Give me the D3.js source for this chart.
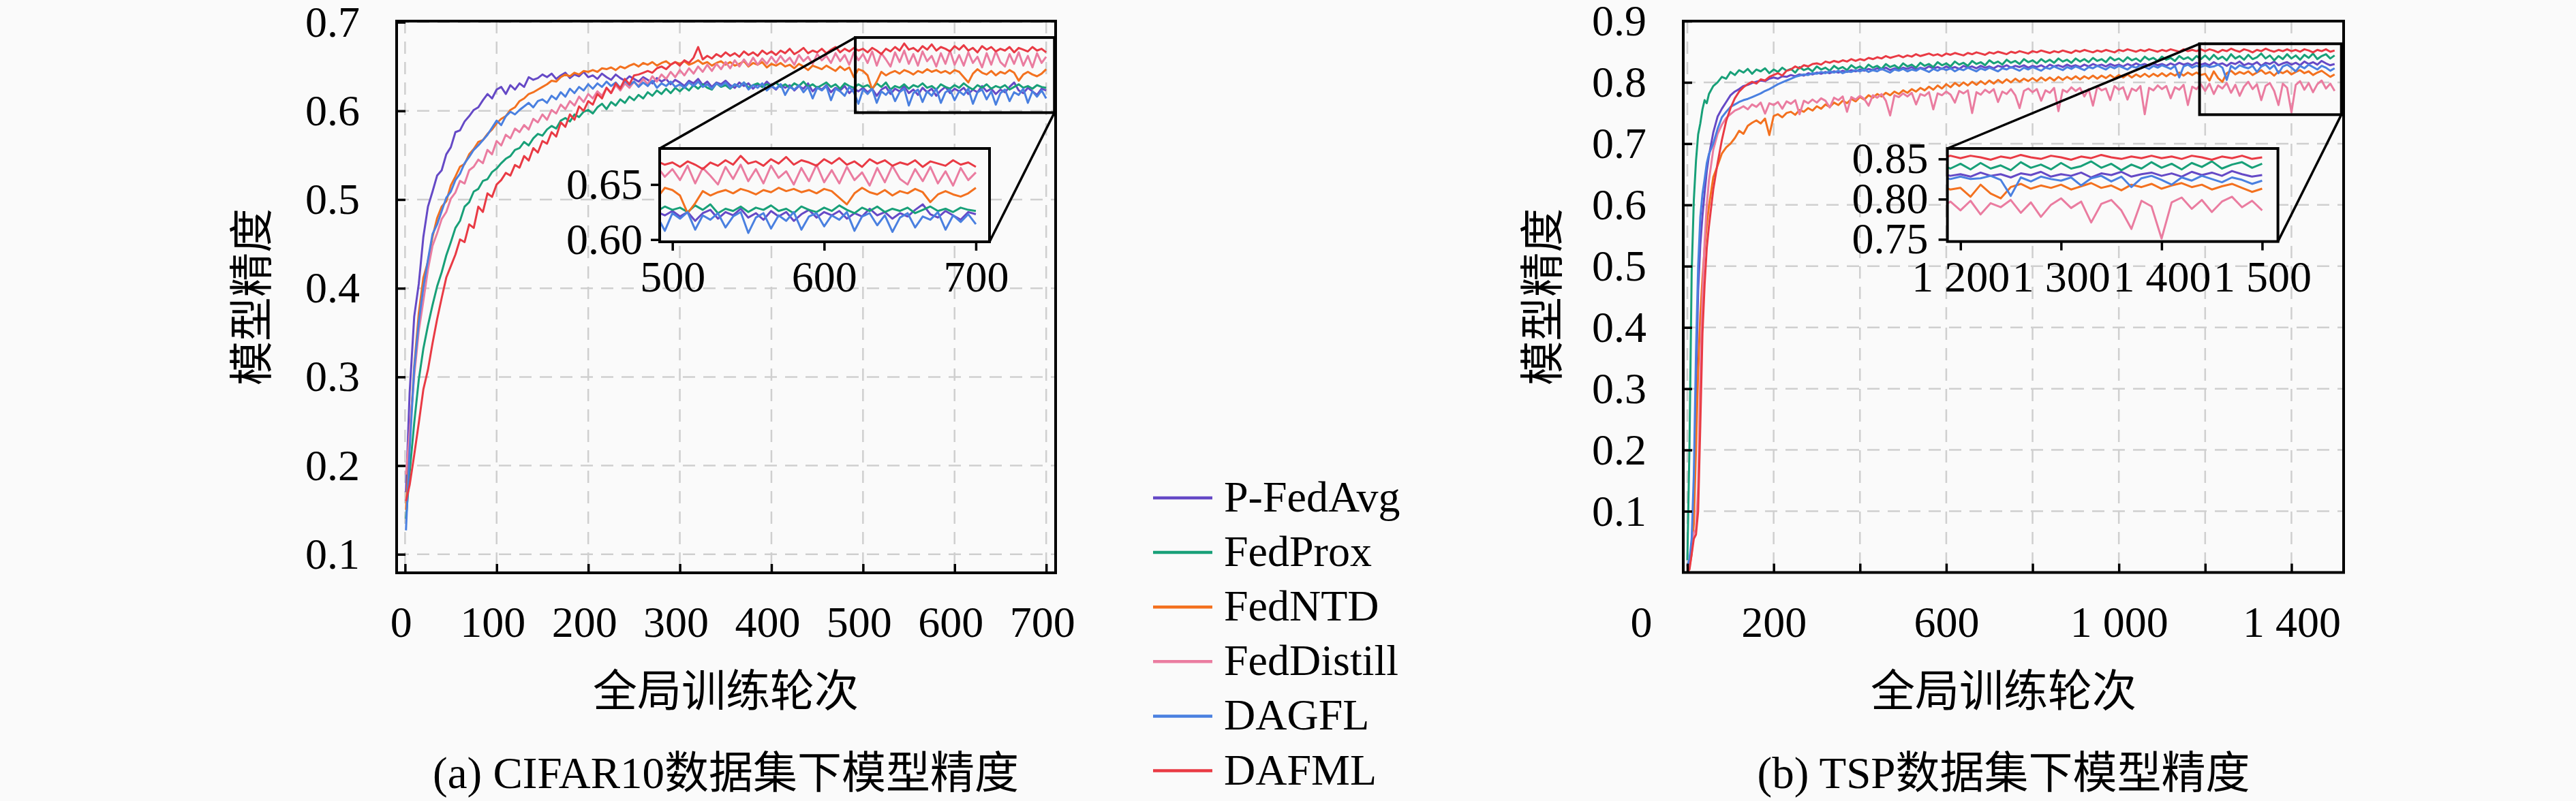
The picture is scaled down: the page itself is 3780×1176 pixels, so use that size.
<!DOCTYPE html>
<html>
<head>
<meta charset="utf-8">
<script src="https://cdn.jsdelivr.net/npm/d3@7"></script>
<style>
  html, body { margin: 0; padding: 0; background: #fafafa; }
  svg { display: block; }
</style>
</head>
<body>
<svg id="fig"></svg>
<script>
"use strict";

/* ── Series meta ───────────────────────────────────────── */
const SERIES = ["P-FedAvg", "FedProx", "FedNTD", "FedDistill", "DAGFL", "DAFML"];
const COLORS = ["#6549c6", "#18a078", "#f3711f", "#ea7ca0", "#4a80e0", "#e93a44"];

/* ── (a) CIFAR10: rounds + accuracy per method ─────────── */
const ROUNDS_A = [1].concat(d3.range(5, 701, 5));

const A_PFEDAVG = [0.170,
  0.282,0.368,0.405,0.458,0.492,0.509,0.527,0.533,0.551,0.559,
  0.576,0.578,0.588,0.594,0.601,0.604,0.612,0.619,0.614,0.624,
  0.627,0.619,0.629,0.624,0.631,0.627,0.638,0.635,0.637,0.641,
  0.638,0.642,0.636,0.640,0.643,0.637,0.641,0.639,0.644,0.638,
  0.640,0.636,0.642,0.638,0.635,0.641,0.637,0.634,0.639,0.636,
  0.633,0.638,0.635,0.631,0.637,0.633,0.636,0.630,0.635,0.632,
  0.628,0.634,0.631,0.636,0.629,0.633,0.627,0.632,0.630,0.634,
  0.629,0.626,0.632,0.628,0.631,0.625,0.630,0.627,0.633,0.628,
  0.624,0.630,0.626,0.629,0.623,0.628,0.625,0.631,0.622,0.627,
  0.624,0.629,0.621,0.626,0.623,0.628,0.620,0.625,0.622,0.626,
  0.621,0.625,0.617,0.624,0.627,0.619,0.625,0.622,0.628,0.620,
  0.624,0.618,0.626,0.621,0.625,0.617,0.623,0.627,0.620,0.625,
  0.622,0.626,0.619,0.624,0.621,0.628,0.622,0.625,0.619,0.624,
  0.621,0.627,0.632,0.623,0.620,0.626,0.622,0.618,0.625,0.623];

const A_FEDPROX = [0.140,
  0.192,0.248,0.297,0.332,0.358,0.381,0.402,0.418,0.437,0.452,
  0.468,0.476,0.492,0.497,0.509,0.512,0.521,0.523,0.531,0.535,
  0.541,0.546,0.549,0.556,0.558,0.565,0.561,0.569,0.574,0.572,
  0.579,0.583,0.580,0.589,0.592,0.588,0.596,0.593,0.599,0.601,
  0.597,0.604,0.608,0.602,0.610,0.606,0.613,0.609,0.616,0.612,
  0.618,0.614,0.621,0.617,0.623,0.619,0.625,0.620,0.626,0.622,
  0.627,0.623,0.629,0.625,0.630,0.626,0.624,0.631,0.627,0.629,
  0.625,0.630,0.627,0.632,0.626,0.629,0.631,0.627,0.630,0.628,
  0.632,0.627,0.630,0.626,0.631,0.628,0.633,0.627,0.630,0.626,
  0.629,0.632,0.627,0.630,0.625,0.631,0.628,0.626,0.630,0.627,
  0.629,0.625,0.631,0.627,0.632,0.624,0.628,0.626,0.630,0.625,
  0.629,0.627,0.631,0.626,0.628,0.624,0.630,0.627,0.625,0.629,
  0.626,0.631,0.627,0.624,0.629,0.626,0.630,0.625,0.628,0.626,
  0.629,0.624,0.627,0.630,0.626,0.628,0.625,0.629,0.627,0.626];

const A_FEDNTD = [0.150,
  0.228,0.312,0.372,0.412,0.430,0.458,0.479,0.492,0.498,0.516,
  0.526,0.537,0.540,0.551,0.557,0.565,0.567,0.574,0.579,0.586,
  0.591,0.594,0.601,0.604,0.611,0.614,0.619,0.621,0.624,0.627,
  0.630,0.634,0.633,0.638,0.641,0.639,0.643,0.641,0.645,0.644,
  0.646,0.644,0.648,0.647,0.649,0.646,0.650,0.648,0.651,0.653,
  0.650,0.654,0.652,0.655,0.651,0.654,0.656,0.652,0.655,0.653,
  0.656,0.652,0.654,0.657,0.653,0.655,0.651,0.654,0.656,0.652,
  0.655,0.651,0.653,0.656,0.650,0.654,0.652,0.655,0.649,0.653,
  0.651,0.654,0.650,0.652,0.648,0.653,0.650,0.646,0.651,0.649,
  0.647,0.651,0.648,0.645,0.650,0.646,0.649,0.638,0.647,0.645,
  0.640,0.624,0.633,0.644,0.640,0.643,0.645,0.642,0.646,0.644,
  0.641,0.645,0.643,0.647,0.644,0.646,0.643,0.645,0.642,0.646,
  0.644,0.638,0.632,0.642,0.647,0.643,0.641,0.645,0.640,0.644,
  0.642,0.646,0.643,0.634,0.641,0.644,0.641,0.639,0.642,0.647];

const A_FEDDISTILL = [0.190,
  0.238,0.301,0.352,0.386,0.421,0.448,0.462,0.478,0.486,0.501,
  0.508,0.521,0.518,0.533,0.537,0.545,0.541,0.556,0.551,0.566,
  0.561,0.573,0.569,0.580,0.576,0.584,0.579,0.591,0.587,0.596,
  0.590,0.601,0.597,0.607,0.602,0.611,0.606,0.616,0.610,0.619,
  0.614,0.622,0.617,0.626,0.620,0.629,0.623,0.631,0.626,0.633,
  0.628,0.636,0.630,0.639,0.633,0.641,0.636,0.644,0.638,0.646,
  0.640,0.648,0.642,0.650,0.644,0.652,0.645,0.653,0.647,0.655,
  0.648,0.657,0.650,0.658,0.651,0.660,0.652,0.659,0.653,0.661,
  0.654,0.662,0.655,0.660,0.652,0.663,0.656,0.661,0.653,0.664,
  0.657,0.662,0.654,0.665,0.656,0.663,0.652,0.666,0.657,0.664,
  0.654,0.667,0.651,0.665,0.658,0.650,0.666,0.655,0.668,0.653,
  0.664,0.651,0.667,0.656,0.662,0.650,0.665,0.653,0.668,0.652,
  0.663,0.651,0.666,0.654,0.661,0.649,0.665,0.652,0.667,0.655,
  0.650,0.664,0.653,0.666,0.651,0.662,0.649,0.665,0.654,0.661];

const A_DAGFL = [0.127,
  0.218,0.309,0.362,0.401,0.432,0.461,0.472,0.487,0.502,0.509,
  0.522,0.529,0.541,0.548,0.556,0.561,0.567,0.573,0.581,0.589,
  0.584,0.594,0.599,0.596,0.601,0.605,0.609,0.604,0.611,0.613,
  0.609,0.617,0.613,0.621,0.616,0.625,0.620,0.627,0.623,0.630,
  0.625,0.631,0.627,0.633,0.628,0.632,0.626,0.634,0.629,0.633,
  0.627,0.632,0.628,0.634,0.626,0.631,0.628,0.633,0.627,0.630,
  0.626,0.632,0.628,0.633,0.627,0.630,0.625,0.631,0.628,0.632,
  0.626,0.630,0.627,0.632,0.624,0.629,0.626,0.631,0.623,0.628,
  0.625,0.630,0.618,0.627,0.624,0.629,0.621,0.627,0.614,0.626,
  0.623,0.628,0.612,0.625,0.622,0.617,0.627,0.621,0.608,0.624,
  0.619,0.625,0.609,0.622,0.618,0.624,0.611,0.621,0.625,0.606,
  0.620,0.624,0.610,0.622,0.617,0.625,0.609,0.621,0.624,0.612,
  0.622,0.618,0.625,0.608,0.621,0.624,0.613,0.622,0.607,0.620,
  0.624,0.611,0.621,0.618,0.625,0.609,0.622,0.616,0.623,0.614];

const A_DAFML = [0.160,
  0.178,0.212,0.248,0.286,0.308,0.338,0.365,0.389,0.412,0.425,
  0.438,0.455,0.452,0.472,0.468,0.492,0.486,0.507,0.503,0.517,
  0.522,0.530,0.527,0.539,0.536,0.549,0.544,0.558,0.553,0.566,
  0.563,0.576,0.571,0.587,0.582,0.596,0.590,0.605,0.600,0.611,
  0.607,0.619,0.614,0.626,0.620,0.631,0.625,0.636,0.630,0.640,
  0.641,0.643,0.645,0.643,0.648,0.650,0.647,0.652,0.655,0.651,
  0.657,0.654,0.660,0.672,0.658,0.662,0.659,0.664,0.661,0.666,
  0.662,0.665,0.661,0.667,0.663,0.666,0.662,0.668,0.664,0.667,
  0.663,0.668,0.665,0.670,0.664,0.667,0.671,0.665,0.668,0.666,
  0.670,0.665,0.669,0.672,0.666,0.670,0.667,0.671,0.668,0.670,
  0.666,0.671,0.668,0.664,0.670,0.667,0.672,0.668,0.676,0.669,
  0.671,0.667,0.673,0.669,0.675,0.668,0.672,0.670,0.667,0.673,
  0.669,0.674,0.668,0.671,0.666,0.673,0.669,0.672,0.667,0.670,
  0.668,0.672,0.666,0.671,0.669,0.667,0.672,0.668,0.670,0.666];

/* ── (b) TSP: rounds + accuracy per method ─────────────── */
const ROUNDS_B = [0, 5, 10, 15, 20, 25, 30, 35, 40, 45, 50, 60, 70, 80, 90]
  .concat(d3.range(100, 1501, 10));

const B_PFEDAVG = [
  0.010,0.020,0.045,0.120,0.300,0.460,0.535,0.582,0.620,0.655,0.680,0.718,0.744,0.757,0.768,
  0.779,0.785,0.789,0.794,0.796,0.799,0.801,0.803,0.802,0.806,
  0.808,0.806,0.810,0.809,0.812,0.810,0.813,0.811,0.815,0.813,
  0.816,0.814,0.817,0.815,0.818,0.816,0.819,0.817,0.820,0.818,
  0.821,0.819,0.822,0.820,0.823,0.821,0.824,0.820,0.823,0.821,
  0.824,0.822,0.825,0.821,0.824,0.822,0.826,0.823,0.825,0.822,
  0.826,0.823,0.825,0.822,0.827,0.824,0.826,0.823,0.827,0.824,
  0.826,0.823,0.827,0.825,0.828,0.824,0.827,0.825,0.828,0.824,
  0.827,0.825,0.828,0.824,0.829,0.826,0.828,0.825,0.829,0.826,
  0.828,0.825,0.829,0.826,0.830,0.827,0.829,0.826,0.830,0.827,
  0.829,0.826,0.830,0.827,0.831,0.828,0.830,0.827,0.831,0.828,
  0.830,0.827,0.831,0.828,0.832,0.829,0.831,0.828,0.832,0.829,
  0.831,0.828,0.833,0.829,0.831,0.827,0.832,0.830,0.834,0.828,
  0.831,0.829,0.833,0.827,0.832,0.830,0.834,0.828,0.831,0.833,
  0.829,0.832,0.828,0.834,0.830,0.833,0.829,0.835,0.831,0.828,
  0.830];

const B_FEDPROX = [
  0.020,0.210,0.490,0.608,0.672,0.715,0.733,0.756,0.771,0.766,0.781,0.794,0.800,0.809,0.806,
  0.817,0.812,0.820,0.816,0.822,0.814,0.821,0.818,0.823,0.815,
  0.821,0.817,0.824,0.819,0.822,0.816,0.825,0.820,0.823,0.818,
  0.826,0.821,0.824,0.819,0.827,0.822,0.825,0.820,0.828,0.823,
  0.826,0.821,0.829,0.824,0.827,0.822,0.830,0.825,0.828,0.823,
  0.831,0.826,0.829,0.824,0.832,0.827,0.830,0.825,0.833,0.828,
  0.831,0.826,0.834,0.829,0.832,0.827,0.835,0.830,0.833,0.828,
  0.836,0.831,0.834,0.829,0.837,0.832,0.835,0.830,0.838,0.833,
  0.836,0.831,0.838,0.833,0.837,0.832,0.839,0.834,0.837,0.832,
  0.839,0.834,0.838,0.833,0.840,0.835,0.838,0.833,0.841,0.836,
  0.839,0.834,0.841,0.836,0.839,0.834,0.842,0.837,0.840,0.835,
  0.842,0.837,0.840,0.835,0.843,0.838,0.841,0.836,0.843,0.838,
  0.844,0.837,0.845,0.838,0.842,0.836,0.846,0.839,0.843,0.837,
  0.845,0.838,0.841,0.847,0.839,0.844,0.836,0.843,0.838,0.846,
  0.839,0.844,0.837,0.845,0.840,0.847,0.838,0.843,0.846,0.839,
  0.844];

const B_FEDNTD = [
  0.000,0.010,0.030,0.080,0.200,0.330,0.420,0.480,0.530,0.568,0.598,0.645,0.664,0.684,0.694,
  0.700,0.709,0.721,0.716,0.729,0.734,0.738,0.733,0.741,0.714,
  0.745,0.748,0.743,0.750,0.752,0.747,0.755,0.752,0.758,0.754,
  0.761,0.757,0.764,0.760,0.767,0.763,0.770,0.766,0.773,0.769,
  0.776,0.772,0.779,0.775,0.781,0.777,0.783,0.779,0.785,0.781,
  0.787,0.783,0.789,0.785,0.791,0.787,0.793,0.788,0.795,0.790,
  0.797,0.792,0.799,0.794,0.800,0.795,0.801,0.796,0.802,0.797,
  0.803,0.798,0.804,0.799,0.805,0.800,0.806,0.801,0.806,0.802,
  0.807,0.802,0.808,0.803,0.808,0.803,0.809,0.804,0.809,0.805,
  0.810,0.805,0.810,0.806,0.811,0.806,0.811,0.807,0.812,0.807,
  0.812,0.808,0.813,0.808,0.813,0.809,0.814,0.809,0.814,0.810,
  0.815,0.810,0.815,0.811,0.816,0.811,0.816,0.812,0.816,0.812,
  0.814,0.803,0.818,0.807,0.801,0.815,0.819,0.813,0.817,0.814,
  0.818,0.812,0.816,0.820,0.814,0.817,0.811,0.818,0.815,0.819,
  0.813,0.817,0.820,0.815,0.818,0.812,0.816,0.819,0.814,0.809,
  0.813];

const B_FEDDISTILL = [
  0.000,0.010,0.040,0.065,0.070,0.140,0.320,0.450,0.540,0.600,0.640,0.690,0.716,0.731,0.742,
  0.748,0.754,0.757,0.761,0.756,0.764,0.760,0.767,0.749,0.766,
  0.763,0.768,0.757,0.769,0.765,0.771,0.748,0.770,0.766,0.772,
  0.767,0.774,0.770,0.759,0.775,0.771,0.777,0.752,0.776,0.772,
  0.778,0.773,0.762,0.779,0.775,0.781,0.770,0.746,0.779,0.776,
  0.782,0.777,0.783,0.764,0.781,0.778,0.784,0.756,0.782,0.779,
  0.785,0.780,0.767,0.786,0.782,0.787,0.750,0.784,0.780,0.788,
  0.783,0.789,0.768,0.785,0.781,0.789,0.779,0.758,0.786,0.790,
  0.784,0.789,0.770,0.787,0.783,0.791,0.753,0.788,0.784,0.792,
  0.786,0.791,0.777,0.789,0.762,0.793,0.787,0.790,0.771,0.794,
  0.788,0.792,0.772,0.790,0.786,0.794,0.748,0.791,0.787,0.795,
  0.789,0.794,0.774,0.792,0.788,0.796,0.763,0.793,0.789,0.797,
  0.786,0.798,0.781,0.795,0.790,0.799,0.783,0.796,0.778,0.793,
  0.801,0.789,0.797,0.771,0.794,0.799,0.786,0.763,0.798,0.791,
  0.751,0.796,0.802,0.788,0.799,0.784,0.797,0.803,0.790,0.798,
  0.786];

const B_DAGFL = [
  0.010,0.022,0.055,0.160,0.360,0.500,0.580,0.618,0.642,0.668,0.683,0.700,0.724,0.743,0.752,
  0.760,0.764,0.768,0.771,0.773,0.776,0.779,0.782,0.786,0.789,
  0.793,0.797,0.800,0.803,0.806,0.809,0.811,0.813,0.812,0.815,
  0.814,0.817,0.815,0.818,0.816,0.819,0.815,0.818,0.817,0.820,
  0.818,0.821,0.817,0.820,0.818,0.822,0.819,0.816,0.821,0.819,
  0.822,0.818,0.821,0.819,0.823,0.820,0.817,0.822,0.819,0.823,
  0.820,0.823,0.818,0.822,0.820,0.824,0.821,0.818,0.823,0.820,
  0.824,0.821,0.818,0.823,0.821,0.825,0.822,0.819,0.824,0.821,
  0.825,0.822,0.819,0.824,0.822,0.826,0.823,0.820,0.825,0.822,
  0.826,0.823,0.820,0.825,0.823,0.827,0.824,0.821,0.826,0.823,
  0.827,0.824,0.821,0.826,0.824,0.828,0.825,0.822,0.827,0.824,
  0.828,0.825,0.822,0.827,0.808,0.826,0.829,0.824,0.827,0.825,
  0.828,0.825,0.826,0.829,0.824,0.804,0.827,0.822,0.828,0.825,
  0.823,0.827,0.817,0.826,0.829,0.822,0.828,0.815,0.826,0.829,
  0.824,0.818,0.827,0.823,0.829,0.825,0.821,0.827,0.824,0.819,
  0.823];

const B_DAFML = [
  0.000,0.005,0.030,0.055,0.062,0.100,0.240,0.390,0.470,0.530,0.565,0.625,0.668,0.706,0.737,
  0.758,0.774,0.785,0.792,0.797,0.801,0.798,0.805,0.803,0.809,
  0.812,0.815,0.811,0.819,0.821,0.826,0.823,0.828,0.826,0.830,
  0.831,0.829,0.834,0.832,0.835,0.833,0.836,0.834,0.838,0.835,
  0.838,0.836,0.840,0.838,0.841,0.839,0.843,0.840,0.842,0.844,
  0.841,0.844,0.842,0.846,0.843,0.845,0.847,0.844,0.846,0.843,
  0.847,0.845,0.848,0.846,0.844,0.848,0.846,0.849,0.847,0.845,
  0.849,0.847,0.850,0.848,0.846,0.850,0.848,0.851,0.849,0.847,
  0.851,0.849,0.852,0.850,0.848,0.851,0.849,0.852,0.850,0.848,
  0.852,0.850,0.853,0.851,0.849,0.852,0.850,0.853,0.851,0.849,
  0.853,0.851,0.854,0.852,0.850,0.853,0.851,0.854,0.852,0.850,
  0.853,0.851,0.854,0.852,0.850,0.854,0.851,0.853,0.851,0.854,
  0.851,0.854,0.852,0.849,0.853,0.851,0.855,0.852,0.850,0.854,
  0.852,0.849,0.853,0.851,0.855,0.852,0.850,0.853,0.851,0.854,
  0.851,0.853,0.850,0.854,0.852,0.849,0.853,0.851,0.854,0.850,
  0.852];

/* ── Ticks / labels ────────────────────────────────────── */
const XTICKS_A  = [0, 100, 200, 300, 400, 500, 600, 700];
const XLABELS_A = ["0", "100", "200", "300", "400", "500", "600", "700"];
const YTICKS_A  = [0.1, 0.2, 0.3, 0.4, 0.5, 0.6, 0.7];
const XTICKS_B  = [0, 200, 400, 600, 800, 1000, 1200, 1400];
const XLABELS_B = ["0", "200", "", "600", "", "1 000", "", "1 400"];
const YTICKS_B  = [0.1, 0.2, 0.3, 0.4, 0.5, 0.6, 0.7, 0.8, 0.9];

const INSET_XTICKS_A  = [500, 600, 700];
const INSET_XLABELS_A = ["500", "600", "700"];
const INSET_YTICKS_A  = [0.60, 0.65];
const INSET_XTICKS_B  = [1200, 1300, 1400, 1500];
const INSET_XLABELS_B = ["1 200", "1 300", "1 400", "1 500"];
const INSET_YTICKS_B  = [0.75, 0.80, 0.85];

/* ── Layout ───────────────────────────────────────────── */
const W = 3780, H = 1176;
const BG = "#fafafa";
const SERIF = "'Liberation Serif', 'Noto Sans CJK SC', serif";
const FS = 64;

const svg = d3.select("#fig")
  .attr("width", W).attr("height", H)
  .attr("viewBox", `0 0 ${W} ${H}`);
svg.append("rect").attr("width", W).attr("height", H).attr("fill", BG);
const defs = svg.append("defs");

const PANELS = [
  {
    id: "a", rounds: ROUNDS_A,
    values: [A_PFEDAVG, A_FEDPROX, A_FEDNTD, A_FEDDISTILL, A_DAGFL, A_DAFML],
    box: { left: 582, right: 1549, top: 31, bottom: 841 },
    xDomain: [-9.2, 710.3], yDomain: [0.0791, 0.7012],
    xTicks: XTICKS_A, xLabels: XLABELS_A, yTicks: YTICKS_A, yFmt: d3.format(".1f"),
    xLabelDx: -6, zeroDx: 0,
    yTitleX: 370, titleX: 1065, caption: "(a) CIFAR10数据集下模型精度",
    inset: {
      box: { left: 968, right: 1452, top: 218, bottom: 355 },
      xDomain: [491.6, 709], yDomain: [0.598, 0.6827],
      xTicks: INSET_XTICKS_A, xLabels: INSET_XLABELS_A,
      yTicks: INSET_YTICKS_A, yFmt: d3.format(".2f"), yPad: 12
    }
  },
  {
    id: "b", rounds: ROUNDS_B,
    values: [B_PFEDAVG, B_FEDPROX, B_FEDNTD, B_FEDDISTILL, B_DAGFL, B_DAFML],
    box: { left: 2470, right: 3439, top: 31, bottom: 840.5 },
    xDomain: [-9.5, 1520.9], yDomain: [0, 0.9],
    xTicks: XTICKS_B, xLabels: XLABELS_B, yTicks: YTICKS_B, yFmt: d3.format(".1f"),
    xLabelDx: 0, zeroDx: -68,
    yTitleX: 2264, titleX: 2940, caption: "(b) TSP数据集下模型精度",
    inset: {
      box: { left: 2857.6, right: 3342.6, top: 218, bottom: 354.6 },
      xDomain: [1187, 1515.7], yDomain: [0.7473, 0.863],
      xTicks: INSET_XTICKS_B, xLabels: INSET_XLABELS_B,
      yTicks: INSET_YTICKS_B, yFmt: d3.format(".2f"), yPad: 15
    }
  }
];

/* ── Helpers ──────────────────────────────────────────── */
function styleAxis(sel) {
  sel.attr("font-family", SERIF).attr("font-size", FS);
  sel.select(".domain").remove();
  sel.selectAll(".tick line").attr("stroke", "#000").attr("stroke-width", 3.5);
  sel.selectAll(".tick text").attr("fill", "#000");
}

function drawLines(g, p, x, y, clipId, width) {
  const line = d3.line()
    .x((d) => x(d[0]))
    .y((d) => y(d[1]));
  g.append("g")
    .attr("clip-path", `url(#${clipId})`)
    .selectAll("path")
    .data(p.values.map((vals, i) => ({ i, pts: p.rounds.map((r, k) => [r, vals[k]]) })))
    .join("path")
    .attr("d", (d) => line(d.pts))
    .attr("fill", "none")
    .attr("stroke", (d) => COLORS[d.i])
    .attr("stroke-width", width)
    .attr("stroke-linejoin", "round");
}

function addClip(id, b) {
  defs.append("clipPath").attr("id", id).append("rect")
    .attr("x", b.left).attr("y", b.top)
    .attr("width", b.right - b.left).attr("height", b.bottom - b.top);
}

/* ── Panels ───────────────────────────────────────────── */
PANELS.forEach((p) => {
  const b = p.box;
  const x = d3.scaleLinear().domain(p.xDomain).range([b.left, b.right]);
  const y = d3.scaleLinear().domain(p.yDomain).range([b.bottom, b.top]);
  const g = svg.append("g").attr("class", "panel-" + p.id);

  /* grid */
  const grid = g.append("g")
    .attr("stroke", "#cfcfcf").attr("stroke-width", 2.5)
    .attr("stroke-dasharray", "18,12");
  grid.selectAll(".gx").data(p.xTicks).join("line")
    .attr("x1", (d) => x(d)).attr("x2", (d) => x(d))
    .attr("y1", b.top).attr("y2", b.bottom);
  grid.selectAll(".gy").data(p.yTicks).join("line")
    .attr("x1", b.left).attr("x2", b.right)
    .attr("y1", (d) => y(d)).attr("y2", (d) => y(d));

  /* series */
  addClip("clip-" + p.id, b);
  drawLines(g, p, x, y, "clip-" + p.id, 3);

  /* axes (inward ticks) */
  const xa = g.append("g").attr("transform", `translate(0,${b.bottom})`)
    .call(d3.axisBottom(x).tickValues(p.xTicks)
      .tickFormat((d, i) => p.xLabels[i])
      .tickSizeInner(-13).tickSizeOuter(0).tickPadding(49))
    .call(styleAxis);
  xa.selectAll(".tick text").attr("dx", (d) => (d === 0 ? p.zeroDx + p.xLabelDx : p.xLabelDx));

  g.append("g").attr("transform", `translate(${b.left},0)`)
    .call(d3.axisLeft(y).tickValues(p.yTicks).tickFormat(p.yFmt)
      .tickSizeInner(-13).tickSizeOuter(0).tickPadding(54))
    .call(styleAxis);

  /* frame */
  g.append("rect")
    .attr("x", b.left).attr("y", b.top)
    .attr("width", b.right - b.left).attr("height", b.bottom - b.top)
    .attr("fill", "none").attr("stroke", "#000").attr("stroke-width", 4);

  /* zoom source rectangle + connectors */
  const ins = p.inset, ib = ins.box;
  const sx0 = x(ins.xDomain[0]), sx1 = x(ins.xDomain[1]);
  const sy0 = y(ins.yDomain[1]), sy1 = y(ins.yDomain[0]);
  g.append("rect")
    .attr("x", sx0).attr("y", sy0).attr("width", sx1 - sx0).attr("height", sy1 - sy0)
    .attr("fill", "none").attr("stroke", "#000").attr("stroke-width", 4);
  g.append("line").attr("x1", sx0).attr("y1", sy0).attr("x2", ib.left).attr("y2", ib.top)
    .attr("stroke", "#000").attr("stroke-width", 3.5);
  g.append("line").attr("x1", sx1).attr("y1", sy1).attr("x2", ib.right).attr("y2", ib.bottom)
    .attr("stroke", "#000").attr("stroke-width", 3.5);

  /* inset */
  const ix = d3.scaleLinear().domain(ins.xDomain).range([ib.left, ib.right]);
  const iy = d3.scaleLinear().domain(ins.yDomain).range([ib.bottom, ib.top]);
  const gi = g.append("g").attr("class", "inset");
  gi.append("rect")
    .attr("x", ib.left).attr("y", ib.top)
    .attr("width", ib.right - ib.left).attr("height", ib.bottom - ib.top)
    .attr("fill", BG);
  addClip("clip-inset-" + p.id, ib);
  drawLines(gi, p, ix, iy, "clip-inset-" + p.id, 3);
  gi.append("g").attr("transform", `translate(0,${ib.bottom})`)
    .call(d3.axisBottom(ix).tickValues(ins.xTicks)
      .tickFormat((d, i) => ins.xLabels[i])
      .tickSizeInner(13).tickSizeOuter(0).tickPadding(15))
    .call(styleAxis);
  gi.append("g").attr("transform", `translate(${ib.left},0)`)
    .call(d3.axisLeft(iy).tickValues(ins.yTicks).tickFormat(ins.yFmt)
      .tickSizeInner(13).tickSizeOuter(0).tickPadding(ins.yPad))
    .call(styleAxis);
  gi.append("rect")
    .attr("x", ib.left).attr("y", ib.top)
    .attr("width", ib.right - ib.left).attr("height", ib.bottom - ib.top)
    .attr("fill", "none").attr("stroke", "#000").attr("stroke-width", 4);

  /* titles */
  g.append("text")
    .attr("transform", `translate(${p.yTitleX},${(b.top + b.bottom) / 2}) rotate(-90)`)
    .attr("text-anchor", "middle").attr("dominant-baseline", "central")
    .attr("font-family", SERIF).attr("font-size", 65)
    .text("模型精度");
  g.append("text")
    .attr("x", p.titleX).attr("y", 1015)
    .attr("text-anchor", "middle").attr("dominant-baseline", "central")
    .attr("font-family", SERIF).attr("font-size", 65)
    .text("全局训练轮次");
  g.append("text")
    .attr("x", p.titleX).attr("y", 1135)
    .attr("text-anchor", "middle").attr("dominant-baseline", "central")
    .attr("font-family", SERIF).attr("font-size", 65)
    .text(p.caption);
});

/* ── Legend ───────────────────────────────────────────── */
const legend = svg.append("g").attr("class", "legend");
const item = legend.selectAll("g").data(SERIES).join("g")
  .attr("transform", (d, i) => `translate(1692,${731 + i * 80.1})`);
item.append("line")
  .attr("x1", 0).attr("x2", 87).attr("y1", 0).attr("y2", 0)
  .attr("stroke", (d, i) => COLORS[i]).attr("stroke-width", 4.5);
item.append("text")
  .attr("x", 104).attr("y", 20)
  .attr("font-family", SERIF).attr("font-size", FS)
  .text((d) => d);
</script>
</body>
</html>
